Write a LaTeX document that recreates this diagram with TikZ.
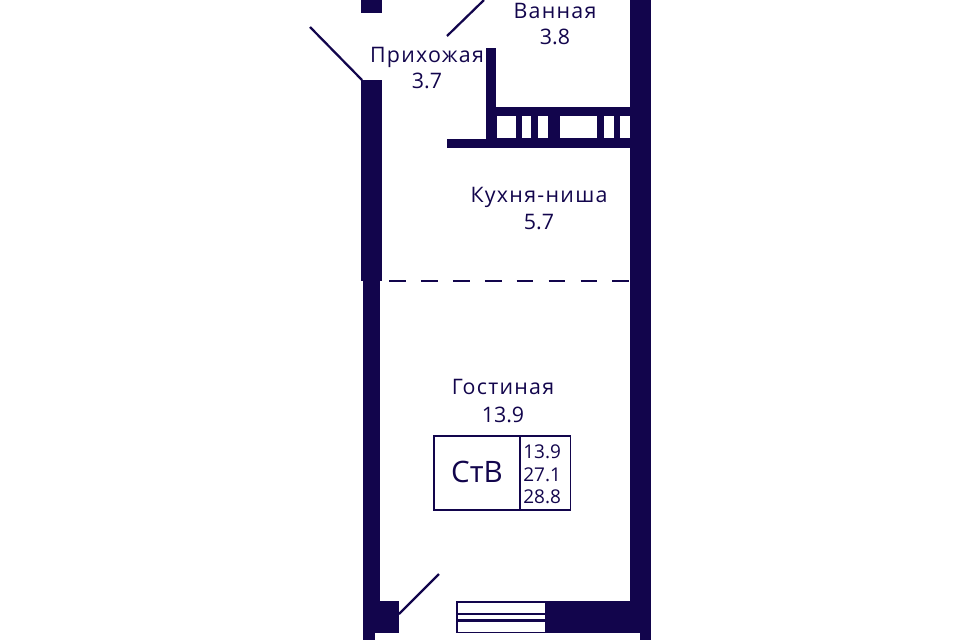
\documentclass[tikz,border=0pt]{standalone}
\usepackage{fontspec}
\setmainfont{Open Sans}
\newfontfamily\roomfont[LetterSpace=6]{Open Sans}
\definecolor{navy}{HTML}{12054C}
\tikzset{
  wall/.style={fill=navy},
  pane/.style={fill=white},
  doorleaf/.style={draw=navy,line width=1.6pt},
  roomlabel/.style={text=navy,font=\fontsize{15.2}{18}\selectfont,anchor=base,inner sep=0pt},
  roomname/.style={roomlabel,font=\roomfont\fontsize{15.2}{18}\selectfont},
  arealabel/.style={text=navy,font=\fontsize{13.5}{16}\selectfont,anchor=base west,inner sep=0pt}
}
\begin{document}
\begin{tikzpicture}[x=0.025cm,y=-0.025cm]
            \useasboundingbox (0,0) rectangle (960,640);
            \fill[wall] (361,0) rectangle (382,13);
            \fill[wall] (361,80) rectangle (382,281);
            \fill[wall] (363,281) rectangle (380,640);
            \fill[wall] (630,0) rectangle (651,640);
            \fill[wall] (486,48) rectangle (495.5,147);
            \fill[wall] (447,139) rectangle (630,147.5);
            \fill[wall] (495,107) rectangle (630,139);
            \fill[pane] (497,116) rectangle (516,137.5);
            \fill[pane] (522,116) rectangle (531,137.5);
            \fill[pane] (537.5,116) rectangle (547.5,137.5);
            \fill[pane] (559.5,116) rectangle (597,137.5);
            \fill[pane] (603.5,116) rectangle (613.5,137.5);
            \fill[pane] (620,116) rectangle (630,137.5);
            \draw[doorleaf] (310,27) -- (362,80);
            \draw[doorleaf] (447,36) -- (484,0);
            \draw[doorleaf] (399,614) -- (439,574);
            \draw[navy,line width=1.8pt,dash pattern=on 11.9pt off 10.8pt] (389,281) -- (630,281);
            % bottom wall
            \fill[wall] (363,601) rectangle (399,633);
            \fill[wall] (456,601) rectangle (630,633);
            \fill[pane] (457.5,603) rectangle (545,612.5);
            \fill[pane] (457.5,615) rectangle (545,619);
            \fill[pane] (457.5,621.5) rectangle (545,631.5);
            \fill[pane] (374.5,633) rectangle (640,640);
            % labels
            \node[roomname] (bath) at (555,18) {Ванная};
            \node[roomlabel] (batharea) at (555,44) {3.8};
            \node[roomname] (hall) at (427,62) {Прихожая};
            \node[roomlabel] (hallarea) at (427,88) {3.7};
            \node[roomname] (kitchen) at (539,202) {Кухня-ниша};
            \node[roomlabel] (kitchenarea) at (539,229) {5.7};
            \node[roomname] (living) at (503,394) {Гостиная};
            \node[roomlabel] (livingarea) at (503,422) {13.9};
            % flat tag
            \draw[navy,line width=1pt] (434,436) rectangle (570.5,510);
            \draw[navy,line width=1pt] (520,436) -- (520,510);
            \node[roomlabel,font=\fontsize{21}{24}\selectfont] (flattype) at (477,482) {СтВ};
            \node[arealabel] (arealiving) at (523,458) {13.9};
            \node[arealabel] (areaflat) at (523,481) {27.1};
            \node[arealabel] (areatotal) at (523,503) {28.8};
        \end{tikzpicture}
\end{document}
